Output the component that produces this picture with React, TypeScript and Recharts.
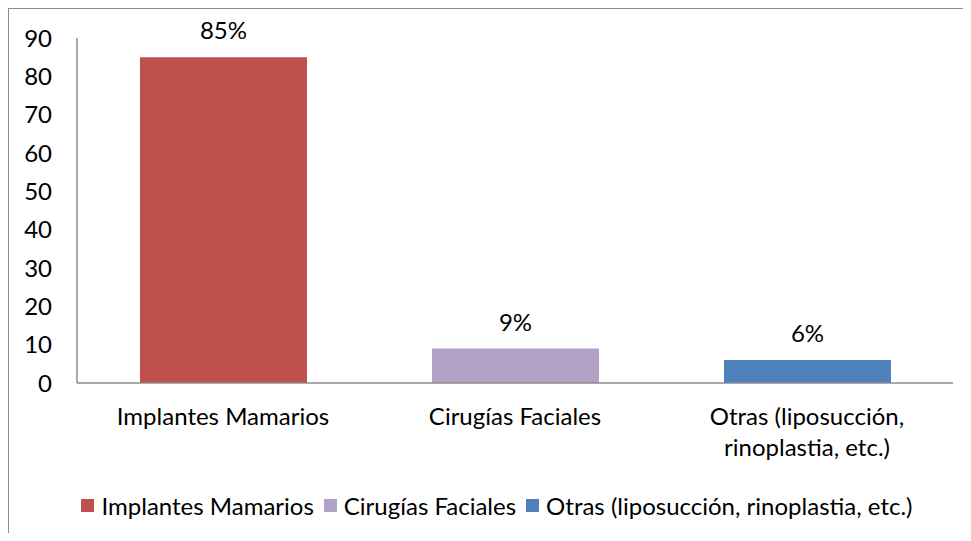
import React from "react";
import { BarChart, Bar, XAxis, YAxis, Cell, LabelList, Legend } from "recharts";

// categorías y valores (porcentaje)
const categories = ["Implantes Mamarios", "Cirugías Faciales", "Otras (liposucción, rinoplastia, etc.)"];
const values = [85, 9, 6];
const colors = ["#C0504D", "#B3A2C7", "#4F81BD"];
const yTicks = [0, 10, 20, 30, 40, 50, 60, 70, 80, 90];

const data = categories.map((name, i) => ({ name, value: values[i] }));

const FONT = "Lato, 'Open Sans', sans-serif";
const FS = 24;

// corta la etiqueta en líneas de ~22 caracteres
const wrap = (s: string, max = 22) => {
  const lines: string[] = [];
  let cur = "";
  s.split(" ").forEach((w) => {
    if (cur && (cur + " " + w).length > max) {
      lines.push(cur);
      cur = w;
    } else {
      cur = cur ? cur + " " + w : w;
    }
  });
  if (cur) lines.push(cur);
  return lines;
};

const CategoryTick = (props: any) => {
  const { x, y, payload } = props;
  const lines = wrap(String(payload.value));
  return (
    <text x={x} y={y} textAnchor="middle" fill="#000" style={{ fontSize: FS, fontFamily: FONT }}>
      {lines.map((l, i) => (
        <tspan key={i} x={x} dy={i === 0 ? "0.71em" : 31}>
          {l}
        </tspan>
      ))}
    </text>
  );
};

const LegendContent = () => (
  <div
    style={{
      display: "flex",
      justifyContent: "center",
      alignItems: "center",
      fontFamily: FONT,
      fontSize: FS,
      color: "#000",
      whiteSpace: "nowrap",
    }}
  >
    {categories.map((c, i) => (
      <span key={c} style={{ display: "flex", alignItems: "center", marginRight: 10 }}>
        <span style={{ width: 13, height: 13, background: colors[i], marginRight: 7, display: "inline-block" }} />
        {c}
      </span>
    ))}
  </div>
);

export default function App() {
  return (
    <div
      style={{
        width: 962,
        height: 533,
        marginBottom: -8,
        borderLeft: "1px solid #8c8c8c",
        borderTop: "1px solid #8c8c8c",
        boxSizing: "border-box",
        overflow: "hidden",
        background: "#fff",
      }}
    >
      <BarChart
        width={961}
        height={532}
        data={data}
        margin={{ top: 29, right: 17, left: 0, bottom: 68 }}
      >
        <XAxis
          dataKey="name"
          height={90}
          interval={0}
          tickLine={false}
          tickSize={0}
          tickMargin={25}
          axisLine={{ stroke: "#8c8c8c", strokeWidth: 1.5 }}
          tick={<CategoryTick />}
        />
        <YAxis
          width={68}
          domain={[0, 90]}
          ticks={yTicks}
          interval={0}
          tickLine={false}
          tickSize={0}
          tickMargin={25}
          axisLine={{ stroke: "#8c8c8c", strokeWidth: 1.5 }}
          tick={{ fill: "#000", fontSize: FS, fontFamily: FONT }}
        />
        <Legend
          verticalAlign="middle"
          layout="horizontal"
          wrapperStyle={{ top: 482, left: 0, width: 986 }}
          content={<LegendContent />}
        />
        <Bar dataKey="value" barSize={167} isAnimationActive={false}>
          {data.map((_, i) => (
            <Cell key={`cell-${i}`} fill={colors[i]} />
          ))}
          <LabelList
            dataKey="value"
            position="top"
            offset={18}
            formatter={(v: any) => `${v}%`}
            style={{ fill: "#000", fontSize: FS, fontFamily: FONT }}
          />
        </Bar>
      </BarChart>
    </div>
  );
}
